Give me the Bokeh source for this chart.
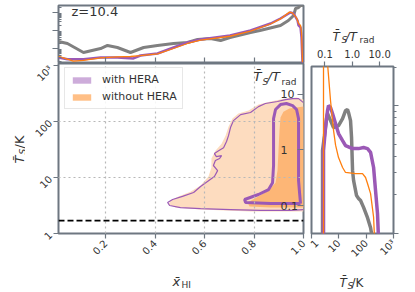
import math
from bokeh.plotting import figure
from bokeh.models import (Range1d, LogAxis, FixedTicker, Span, Label, Legend,
                          LegendItem, LogScale, CustomJSTickFormatter)
from bokeh.layouts import row, column
from bokeh.embed import file_html
from bokeh.resources import INLINE
from bokeh.core.properties import value

# ---------------- data ----------------
Z = 10.4
T_RAD = 2.725 * (1 + Z)          # radiation temperature (K)
T_DASH = 1.7                     # dashed reference temperature (K)

# top panel: marginal of x_HI (log density)
top_gray_x = [0.010, 0.046, 0.111, 0.180, 0.208, 0.248, 0.301, 0.354, 0.410, 0.475, 0.531,
              0.572, 0.624, 0.665, 0.703, 0.786, 0.824, 0.907, 0.939, 0.960, 0.968, 0.980, 0.988, 1.0]
top_gray_y = [0.0245, 0.019, 0.006, 0.010, 0.0147, 0.0114, 0.006, 0.0114, 0.0147, 0.019, 0.0215,
              0.0316, 0.036, 0.028, 0.041, 0.0774, 0.10, 0.19, 0.36, 0.68, 1.67, 1.9, 2.45, 2.45]
top_purple_x = [0.010, 0.046, 0.111, 0.180, 0.248, 0.313, 0.341, 0.410, 0.475, 0.531, 0.584,
                0.703, 0.786, 0.867, 0.907, 0.947, 0.960, 0.976, 0.980, 0.988, 0.992, 0.996, 0.998]
top_purple_y = [0.0032, 0.0025, 0.0025, 0.0032, 0.0032, 0.0028, 0.0041, 0.0053, 0.0114, 0.0215, 0.0316,
                0.0527, 0.10, 0.245, 0.464, 1.0, 0.88, 0.36, 0.19, 0.147, 0.041, 0.0017, 0.0005]
top_orange_x = [0.010, 0.030, 0.070, 0.111, 0.180, 0.248, 0.301, 0.341, 0.410, 0.475, 0.531, 0.584,
                0.703, 0.786, 0.867, 0.907, 0.943, 0.955, 0.972, 0.980, 0.988, 0.992, 0.996]
top_orange_y = [0.0037, 0.0030, 0.0020, 0.0022, 0.0030, 0.0034, 0.0036, 0.0040, 0.0050, 0.0100, 0.019, 0.029,
                0.048, 0.092, 0.23, 0.44, 1.05, 0.95, 0.50, 0.25, 0.19, 0.08, 0.0017]

# right panel: marginal of T_S (log density)
r_orange_T = [2.75, 2.75, 3.7, 3.86, 4.97, 6.4, 7.6, 9.74, 13.7, 17.6, 40.9, 73.5, 95, 112, 145, 187, 203]
r_orange_p = [0.09, 3.0, 3.0, 2.13, 1.09, 0.64, 0.49, 0.392, 0.328, 0.30, 0.294, 0.294, 0.274, 0.246, 0.205, 0.134, 0.09]
r_purple_T = [2.75, 2.75, 3.26, 3.86, 4.19, 4.97, 5.87, 7.57, 9.74, 13.7, 17.6, 31.8, 52.6, 80.4, 112, 145, 187, 220, 260, 283]
r_purple_p = [0.09, 0.445, 0.673, 0.914, 1.0, 0.965, 0.866, 0.723, 0.604, 0.533, 0.487, 0.461, 0.461, 0.47, 0.461, 0.43, 0.328, 0.217, 0.143, 0.09]
r_gray_T = [2.53, 2.53, 2.99, 3.54, 3.86, 4.97, 6.4, 9.74, 13.7, 17.6, 20.8, 22.6, 26.8, 29.2, 31.8, 34.6, 44.5, 52.6, 62.4, 80.4, 112, 145, 171]
r_gray_p = [0.09, 0.445, 0.583, 0.791, 0.866, 0.763, 0.673, 0.698, 0.791, 0.914, 0.93, 0.882, 0.763, 0.562, 0.31, 0.26, 0.198, 0.188, 0.181, 0.16, 0.133, 0.111, 0.09]

# main panel contours (x_HI, T_S)
wo95_x = [1.0, 0.972, 0.927, 0.867, 0.818, 0.778, 0.737, 0.713, 0.697, 0.685, 0.669, 0.644, 0.628, 0.628,
          0.616, 0.584, 0.543, 0.495, 0.463, 0.455, 0.483, 0.584, 0.786, 1.0]
wo95_T = [247, 268, 257, 228, 201, 157, 139, 113, 81, 56, 40, 30, 21.9, 15.1,
          10.4, 7.2, 5.6, 4.6, 3.88, 3.3, 2.91, 2.68, 2.47, 2.47]
wo68_x = [1.0, 0.972, 0.943, 0.919, 0.907, 0.903, 0.899, 0.895, 0.887, 0.859, 0.810, 0.774, 0.782, 0.867, 1.0]
wo68_T = [185, 178, 171, 150, 118, 69, 30.3, 13.3, 8.1, 5.86, 4.39, 3.58, 3.03, 2.91, 2.91]
w95_x = [1.0, 0.980, 0.956, 0.927, 0.895, 0.846, 0.818, 0.786, 0.746, 0.717, 0.705, 0.697, 0.689, 0.677,
         0.657, 0.640, 0.648, 0.669, 0.661, 0.644, 0.636, 0.653, 0.640, 0.612, 0.584, 0.556, 0.511,
         0.471, 0.451, 0.459, 0.503, 0.584, 0.705, 0.826, 0.947, 1.0]
w95_T = [218, 257, 257, 247, 228, 210, 185, 145, 133, 104, 78, 56, 44, 34,
         30, 26.8, 23.7, 24.7, 21.9, 20.1, 16.4, 13.3, 10.4, 8.5, 6.9, 5.4, 4.6,
         4.05, 3.58, 3.16, 2.91, 2.79, 2.68, 2.58, 2.58, 2.68]
w68_x = [0.988, 0.867, 0.766, 0.762, 0.818, 0.859, 0.875, 0.879, 0.879, 0.879, 0.887, 0.907, 0.931,
         0.956, 0.972, 0.980, 0.980, 0.980, 0.984, 0.988]
w68_T = [3.43, 3.43, 3.58, 4.05, 4.97, 6.1, 8.1, 16.4, 45.6, 113, 164, 201, 210,
         193, 164, 113, 30.3, 8.84, 5.4, 3.43]

x_ticks = [0.2, 0.4, 0.6, 0.8, 1.0]
x_labels = ["0.2", "0.4", "0.6", "0.8", "1.0"]
T_ticks = [1, 10, 100, 1000]
T_labels = ["1", "10", "100", "10³"]
ratio_ticks = [0.1, 1, 10]
ratio_labels_main = ["0.1", "1", "10"]
ratio_labels_top = ["0.1", "1.0", "10.0"]
legend_labels = ["with HERA", "without HERA"]

# ---------------- style ----------------
FONT = "DejaVu Sans"
TXT = "#333333"
SPINE = "#6e7781"
PURPLE = "#9b59b6"
ORANGE = "#ff7f0e"
GRAY = "#808080"
PEACH = "#fddcbf"
ORANGE_FILL = "#fdb676"
NAN = float("nan")


def base_fig(**kw):
    p = figure(output_backend="svg", toolbar_location=None, **kw)
    p.outline_line_color = SPINE
    p.outline_line_width = 2
    p.background_fill_color = "white"
    p.border_fill_color = "white"
    p.grid.visible = False
    return p


def text_fig(w, h, xr, yr):
    # frames of figures in a row/column are aligned by the layout; the ranges are
    # chosen in page pixels of that aligned frame so the texts sit where intended
    p = figure(width=w, height=h, x_range=Range1d(*xr), y_range=Range1d(*yr),
               x_axis_location=None, y_axis_location=None, output_backend="svg",
               toolbar_location=None, min_border=0)
    p.outline_line_color = None
    p.grid.visible = False
    p.background_fill_color = "white"
    p.border_fill_color = "white"
    return p


def put(p, x, y, text, size=12, style="normal", angle=0.0):
    p.text(x=[x], y=[y], text=[text], text_font=value(FONT), text_font_size=f"{size}px",
           text_color=TXT, text_font_style=style, angle=angle,
           text_align="left", text_baseline="alphabetic")


def style_axis(ax, tick_in=0, tick_out=5, show=True, size="10px", orient="horizontal"):
    ax.axis_line_color = None
    ax.major_tick_line_color = SPINE
    ax.minor_tick_line_color = SPINE
    ax.major_tick_line_width = 1.2
    ax.major_tick_in = tick_in
    ax.major_tick_out = tick_out
    ax.minor_tick_in = 0
    ax.minor_tick_out = 0
    ax.major_label_text_font = FONT
    ax.major_label_text_color = TXT
    ax.major_label_orientation = orient
    if show:
        ax.major_label_text_font_size = size
        ax.major_label_standoff = 3
    else:
        ax.formatter = CustomJSTickFormatter(code="return ''")
        ax.major_label_text_font_size = "1px"
        ax.major_label_standoff = 0


def frame_label(p, sx, sy, text, size=12, style="normal"):
    p.add_layout(Label(x=sx, y=sy, x_units="screen", y_units="screen", text=text,
                       text_font=FONT, text_font_size=f"{size}px", text_color=TXT,
                       text_font_style=style))


# ---------------- top panel ----------------
top = base_fig(width=308, height=63, x_range=Range1d(0.01, 1.0), y_range=Range1d(0.00167, 2.45),
               y_axis_type="log", min_border_left=58, min_border_right=5,
               min_border_top=5, min_border_bottom=1)
top.line(top_gray_x, top_gray_y, line_color=GRAY, line_width=3)
top.line(top_purple_x, top_purple_y, line_color=PURPLE, line_width=2.5)
top.line(top_orange_x, top_orange_y, line_color=ORANGE, line_width=1.3)
style_axis(top.xaxis[0], tick_in=5, tick_out=0, show=False)
top.xaxis[0].ticker = FixedTicker(ticks=x_ticks[:-1])
style_axis(top.yaxis[0], tick_in=0, tick_out=6, show=False)
top.yaxis[0].ticker = FixedTicker(ticks=[0.01, 0.1, 1],
                                  minor_ticks=[m * 10 ** e for e in (-3, -2, -1) for m in range(2, 10)] + [2])
top.yaxis[0].minor_tick_in = 3
frame_label(top, 13, 44, f"z={Z}", size=13)

# ---------------- main panel ----------------
main = base_fig(width=283, height=203, x_range=Range1d(0.01, 1.0), y_range=Range1d(1, 1090),
                y_axis_type="log", min_border_left=33, min_border_right=5,
                min_border_top=0, min_border_bottom=33)
main.grid.visible = True
main.xgrid.ticker = FixedTicker(ticks=x_ticks[:-1])
main.ygrid.ticker = FixedTicker(ticks=[10, 100])
main.grid.grid_line_color = "#b8b8b8"
main.grid.grid_line_dash = "2 3"
main.grid.grid_line_width = 1.2
main.grid.level = "annotation"

main.patch(wo95_x, wo95_T, fill_color=PEACH, line_color=None)
main.patch(wo68_x, wo68_T, fill_color=ORANGE_FILL, line_color=None)
main.line(w95_x, w95_T, line_color=PURPLE, line_width=1.2)
main.line(w68_x, w68_T, line_color=PURPLE, line_width=3)
main.add_layout(Span(location=T_DASH, dimension="width", line_color="black",
                     line_dash="6 3", line_width=1.6))

style_axis(main.xaxis[0], tick_out=5, orient=math.pi / 4)
main.xaxis[0].ticker = FixedTicker(ticks=x_ticks)
main.xaxis[0].major_label_overrides = dict(zip(x_ticks, x_labels))
style_axis(main.yaxis[0], tick_out=5, orient=math.pi / 4)
main.yaxis[0].ticker = FixedTicker(ticks=T_ticks)
main.yaxis[0].major_label_overrides = dict(zip(T_ticks, T_labels))

main.extra_y_ranges = {"ratio": Range1d(1 / T_RAD, 1090 / T_RAD)}
main.extra_y_scales = {"ratio": LogScale()}
rax = LogAxis(y_range_name="ratio", ticker=FixedTicker(ticks=ratio_ticks))
style_axis(rax, tick_in=6, tick_out=0, show=False)
main.add_layout(rax, "right")
for r, lab in zip(ratio_ticks, ratio_labels_main):
    main.add_layout(Label(x=222, x_units="screen", y=r * T_RAD, y_units="data", text=lab,
                          text_font=FONT, text_font_size="11px", text_color=TXT,
                          text_baseline="middle"))

# legend swatches (placeholders, never drawn in the plot area)
r_w = main.quad(left=[NAN], right=[NAN], top=[NAN], bottom=[NAN], fill_color=PURPLE,
                fill_alpha=0.5, line_color=None)
r_wo = main.quad(left=[NAN], right=[NAN], top=[NAN], bottom=[NAN], fill_color=ORANGE,
                 fill_alpha=0.5, line_color=None)
leg = Legend(items=[LegendItem(label=legend_labels[0], renderers=[r_w]),
                    LegendItem(label=legend_labels[1], renderers=[r_wo])],
             location=(6, 124), label_text_font=FONT, label_text_font_size="11px",
             label_text_color=TXT, glyph_width=23, glyph_height=8, label_height=13,
             label_standoff=9, spacing=4, padding=5, margin=0,
             border_line_color="#d0d0d0", border_line_width=1, background_fill_alpha=0.85)
main.add_layout(leg)

# T_S/T_rad title inside main frame
frame_label(main, 195, 150, "T\u0304", size=13, style="italic")
frame_label(main, 204, 147, "S", size=9, style="italic")
frame_label(main, 209, 150, "/T", size=13, style="italic")
frame_label(main, 223, 147, "rad", size=9)

# ---------------- right panel ----------------
right = base_fig(width=107, height=222, x_range=Range1d(1, 1000), y_range=Range1d(0.1, 2.02),
                 x_axis_type="log", y_axis_type="log", y_axis_location="right",
                 min_border_left=3, min_border_right=22, min_border_top=22, min_border_bottom=33)
right.line(r_gray_T, r_gray_p, line_color=GRAY, line_width=3.5)
right.line(r_purple_T, r_purple_p, line_color=PURPLE, line_width=3.5)
right.line(r_orange_T, r_orange_p, line_color=ORANGE, line_width=1.3)

style_axis(right.xaxis[0], tick_out=5, orient=math.pi / 4)
right.xaxis[0].ticker = FixedTicker(ticks=T_ticks)
right.xaxis[0].major_label_overrides = dict(zip(T_ticks, T_labels))
style_axis(right.yaxis[0], tick_out=5, show=False)
right.yaxis[0].ticker = FixedTicker(ticks=[0.1, 1], minor_ticks=[m / 10 for m in range(2, 10)] + [2])
right.yaxis[0].minor_tick_out = 3

right.extra_x_ranges = {"ratio": Range1d(1 / T_RAD, 1000 / T_RAD)}
right.extra_x_scales = {"ratio": LogScale()}
tax = LogAxis(x_range_name="ratio", ticker=FixedTicker(ticks=ratio_ticks))
style_axis(tax, tick_out=5)
tax.major_label_standoff = 4
tax.major_label_overrides = dict(zip(ratio_ticks, ratio_labels_top))
right.add_layout(tax, "above")

# ---------------- axis titles (text strips, page-pixel ranges) ----------------
ylab = text_fig(25, 203, (0, 25), (233, 63))
put(ylab, 19, 163, "T\u0304", size=13, style="italic", angle=math.pi / 2)
put(ylab, 22, 154, "S", size=9, style="italic", angle=math.pi / 2)
put(ylab, 19, 148, "/K", size=13, angle=math.pi / 2)

xlab = text_fig(308, 26, (58, 303), (292, 266))
put(xlab, 172, 281, "x\u0304", size=13, style="italic")
put(xlab, 181, 284, "HI", size=9)

tr = text_fig(107, 44, (311, 393), (44, 0))
put(tr, 332, 36, "T\u0304", size=12, style="italic")
put(tr, 341, 39, "S", size=9, style="italic")
put(tr, 345, 36, "/T", size=12, style="italic")
put(tr, 359, 39, "rad", size=9)

rlab = text_fig(107, 26, (311, 393), (292, 266))
put(rlab, 339, 282, "T\u0304", size=12, style="italic")
put(rlab, 347, 285, "S", size=9, style="italic")
put(rlab, 351, 282, "/K", size=12)

left_col = column(top, row(ylab, main, spacing=0), xlab, spacing=0)
right_col = column(tr, right, rlab, spacing=0)
layout = row(left_col, right_col, spacing=0)

open("out.html", "w").write(file_html(layout, INLINE))
